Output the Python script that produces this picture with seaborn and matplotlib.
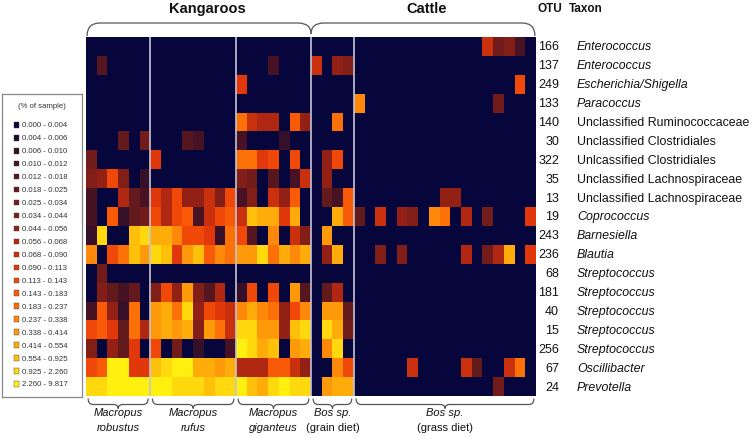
import numpy as np
import pandas as pd
import matplotlib
matplotlib.use("Agg")
import matplotlib.pyplot as plt
import seaborn as sns
from matplotlib.colors import ListedColormap
from matplotlib.path import Path
from matplotlib.patches import PathPatch, Rectangle
from matplotlib.transforms import blended_transform_factory

# ---------------- data ----------------
otu_ids = ["166", "137", "249", "133", "140", "30", "322", "35", "13", "19",
           "243", "236", "68", "181", "40", "15", "256", "67", "24"]
taxa = ["Enterococcus", "Enterococcus", "Escherichia/Shigella", "Paracoccus",
        "Unclassified Ruminococcaceae", "Unclassified Clostridiales",
        "Unlcassified Clostridiales", "Unclassified Lachnospiraceae",
        "Unclassified Lachnospiraceae", "Coprococcus", "Barnesiella", "Blautia",
        "Streptococcus", "Streptococcus", "Streptococcus", "Streptococcus",
        "Streptococcus", "Oscillibacter", "Prevotella"]
taxon_italic = [True, True, True, True, False, False, False, False, False, True,
                True, True, True, True, True, True, True, True, True]

group_line1 = ["Macropus", "Macropus", "Macropus", "Bos sp.", "Bos sp."]
group_line2 = ["robustus", "rufus", "giganteus", "(grain diet)", "(grass diet)"]
group_line2_italic = [True, True, True, False, False]

bin_labels = ["0.000 - 0.004", "0.004 - 0.006", "0.006 - 0.010", "0.010 - 0.012",
              "0.012 - 0.018", "0.018 - 0.025", "0.025 - 0.034", "0.034 - 0.044",
              "0.044 - 0.056", "0.056 - 0.068", "0.068 - 0.090", "0.090 - 0.113",
              "0.113 - 0.143", "0.143 - 0.183", "0.183 - 0.237", "0.237 - 0.338",
              "0.338 - 0.414", "0.414 - 0.554", "0.554 - 0.925", "0.925 - 2.260",
              "2.260 - 9.817"]
bin_colors = ["#06063c", "#1f0a2e", "#361028", "#461224", "#551620", "#631a1c",
              "#711c1a", "#821e18", "#922015", "#b02812", "#c8300e", "#e0380a",
              "#f04808", "#f85a08", "#fc7008", "#fd880a", "#fe9a0a", "#ffac0a",
              "#ffc00c", "#ffd80e", "#fff010"]

# abundance bin index (0-20, see bin_labels) per OTU row and sample
robustus = [
    [0, 0, 0, 0, 0, 0], [0, 4, 0, 0, 0, 0], [0, 0, 0, 0, 0, 0], [0, 0, 0, 0, 0, 0],
    [0, 0, 0, 0, 0, 0], [0, 0, 0, 5, 0, 6], [6, 0, 0, 0, 0, 0], [7, 8, 12, 7, 0, 2],
    [3, 0, 0, 9, 5, 3], [3, 0, 13, 2, 5, 6], [2, 19, 0, 0, 18, 19], [15, 0, 12, 14, 18, 16],
    [0, 6, 0, 0, 0, 0], [0, 7, 5, 3, 5, 0], [3, 13, 8, 2, 14, 0], [12, 13, 11, 5, 14, 9],
    [7, 0, 8, 5, 11, 0], [12, 13, 20, 20, 11, 11], [19, 19, 20, 20, 20, 20]]
rufus = [
    [0, 0, 0, 0, 0, 0, 0, 0], [0, 0, 0, 0, 0, 0, 0, 0], [0, 0, 0, 0, 0, 0, 0, 0],
    [0, 0, 0, 0, 0, 0, 0, 0], [0, 0, 0, 0, 0, 0, 0, 0], [0, 0, 0, 4, 3, 0, 0, 0],
    [11, 0, 0, 0, 0, 0, 0, 0], [0, 0, 0, 0, 0, 0, 0, 0], [11, 9, 12, 8, 8, 10, 7, 12],
    [12, 9, 12, 13, 3, 10, 12, 13], [17, 17, 15, 12, 12, 11, 2, 14],
    [19, 18, 11, 16, 18, 13, 15, 14], [0, 0, 0, 0, 0, 0, 0, 0],
    [7, 12, 8, 16, 7, 4, 9, 0], [16, 17, 14, 19, 8, 12, 11, 10],
    [16, 17, 16, 17, 7, 16, 14, 10], [12, 0, 6, 0, 2, 0, 0, 3],
    [18, 19, 20, 20, 17, 17, 16, 17], [20, 20, 19, 19, 19, 18, 19, 19]]
giganteus = [
    [0, 0, 0, 0, 0, 0, 0], [0, 0, 0, 3, 0, 0, 0], [11, 0, 0, 0, 0, 0, 0],
    [0, 0, 0, 0, 0, 0, 0], [14, 10, 9, 9, 0, 13, 8], [3, 0, 0, 0, 2, 0, 0],
    [14, 14, 11, 12, 0, 12, 0], [7, 6, 0, 4, 0, 3, 10], [3, 7, 0, 10, 8, 13, 0],
    [10, 18, 17, 17, 11, 17, 0], [12, 4, 0, 15, 0, 10, 7], [16, 16, 19, 14, 17, 15, 17],
    [0, 0, 0, 0, 0, 0, 0], [2, 12, 0, 12, 0, 16, 4], [15, 17, 15, 14, 8, 12, 15],
    [19, 19, 16, 16, 8, 18, 19], [20, 19, 17, 18, 0, 16, 17], [9, 9, 9, 13, 13, 10, 8],
    [20, 18, 17, 19, 20, 19, 19]]
bos_grain = [
    [0, 0, 0, 0], [10, 0, 8, 7], [0, 0, 0, 0], [0, 0, 0, 0], [0, 0, 14, 0],
    [0, 0, 0, 0], [0, 8, 12, 0], [0, 8, 0, 0], [0, 5, 3, 13], [0, 0, 17, 13],
    [0, 16, 0, 0], [0, 8, 17, 0], [0, 0, 0, 0], [0, 5, 9, 0], [0, 16, 16, 5],
    [0, 19, 17, 6], [0, 15, 19, 0], [0, 0, 15, 12], [0, 16, 17, 17]]
bos_grass = [
    [0, 0, 0, 0, 0, 0, 0, 0, 0, 0, 0, 0, 10, 6, 7, 3, 0],
    [0, 0, 0, 0, 0, 0, 0, 0, 0, 0, 0, 0, 0, 0, 0, 0, 0],
    [0, 0, 0, 0, 0, 0, 0, 0, 0, 0, 0, 0, 0, 0, 0, 12, 0],
    [15, 0, 0, 0, 0, 0, 0, 0, 0, 0, 0, 0, 0, 6, 0, 0, 0],
    [0, 0, 0, 0, 0, 0, 0, 0, 0, 0, 0, 0, 0, 0, 0, 0, 0],
    [0, 0, 0, 0, 0, 0, 0, 0, 0, 0, 0, 0, 0, 0, 0, 0, 0],
    [0, 0, 0, 0, 0, 0, 0, 0, 0, 0, 0, 0, 0, 0, 0, 0, 0],
    [0, 0, 0, 0, 0, 0, 0, 0, 0, 0, 0, 0, 0, 0, 0, 0, 0],
    [0, 0, 0, 0, 0, 0, 0, 0, 8, 8, 0, 0, 0, 0, 0, 0, 0],
    [5, 0, 10, 0, 8, 7, 0, 15, 14, 0, 9, 0, 6, 0, 0, 0, 11],
    [0, 0, 0, 0, 0, 0, 0, 0, 0, 0, 0, 0, 0, 0, 0, 0, 0],
    [0, 0, 7, 0, 7, 0, 0, 0, 0, 0, 9, 0, 6, 9, 17, 0, 11],
    [0, 0, 0, 0, 0, 0, 0, 0, 0, 0, 0, 0, 0, 0, 0, 0, 0],
    [0, 0, 0, 0, 0, 0, 0, 0, 0, 0, 0, 0, 0, 0, 0, 0, 0],
    [0, 0, 0, 0, 0, 0, 0, 0, 0, 0, 0, 0, 0, 0, 0, 0, 0],
    [0, 0, 0, 0, 0, 0, 0, 0, 0, 0, 0, 0, 0, 0, 0, 0, 0],
    [0, 0, 0, 0, 0, 0, 0, 0, 0, 0, 0, 0, 0, 0, 0, 0, 0],
    [0, 0, 0, 0, 0, 10, 0, 0, 0, 0, 10, 5, 0, 0, 10, 14, 0],
    [0, 0, 0, 0, 0, 0, 0, 0, 0, 0, 0, 0, 0, 6, 0, 0, 0]]

# ---------------- figure ----------------
sns.set_style("white")
plt.rcParams["font.family"] = ["Liberation Sans", "DejaVu Sans"]

W, H = 752, 439
fig = plt.figure(figsize=(W / 100, H / 100), dpi=100)
fig.patch.set_facecolor("white")


def fx(px):
    return px / W


def fy(py):
    return 1 - py / H


blocks = [robustus, rufus, giganteus, bos_grain, bos_grass]
mat = np.hstack([np.array(b) for b in blocks])
group_sizes = [len(b[0]) for b in blocks]
edges = np.concatenate([[0], np.cumsum(group_sizes)])
df = pd.DataFrame(mat, index=otu_ids)

hm_left, hm_top, hm_right, hm_bottom = 86, 38, 536, 397
ax = fig.add_axes([fx(hm_left), fy(hm_bottom), fx(hm_right - hm_left),
                   (hm_bottom - hm_top) / H])
cmap = ListedColormap(bin_colors)
sns.heatmap(df, ax=ax, cmap=cmap, vmin=-0.5, vmax=len(bin_colors) - 0.5,
            cbar=False, xticklabels=False, yticklabels=False, linewidths=0)
ax.set_xlabel("")
ax.set_ylabel("")
ax.tick_params(length=0)

for e in edges[1:-1]:
    ax.axvline(e, color="#c4c4d4", lw=1.2)

ncol = mat.shape[1]
hpx = (hm_bottom - hm_top)          # axes height in px
cw = (hm_right - hm_left) / ncol    # column width in px

# row labels
trans_rows = blended_transform_factory(ax.transAxes, ax.transData)
for i, (otu, tx, it) in enumerate(zip(otu_ids, taxa, taxon_italic)):
    ax.text((559 - hm_left) / (hm_right - hm_left), i + 0.5, otu,
            transform=trans_rows, ha="right", va="center", fontsize=9,
            color="#111111", clip_on=False)
    ax.text((577 - hm_left) / (hm_right - hm_left), i + 0.5, tx,
            transform=trans_rows, ha="left", va="center", fontsize=8.9,
            style="italic" if it else "normal", color="#111111", clip_on=False)

# headers
fig.text(fx(207), fy(9), "Kangaroos", ha="center", va="center",
         fontsize=10.5, fontweight="bold", color="#111111")
fig.text(fx(427), fy(9), "Cattle", ha="center", va="center",
         fontsize=10.5, fontweight="bold", color="#111111")
fig.text(fx(550), fy(9), "OTU", ha="center", va="center",
         fontsize=8.5, fontweight="bold", color="#111111")
fig.text(fx(569), fy(9), "Taxon", ha="left", va="center",
         fontsize=8.5, fontweight="bold", color="#111111")

# brackets (x in data columns, y in axes fraction)
tb = blended_transform_factory(ax.transData, ax.transAxes)


def ay(py):
    return (hm_bottom - py) / hpx


def top_bracket(x0, x1, ytip0, ytip1):
    r = 13 / cw
    verts = [(x0, ay(ytip0)), (x0, ay(24)), (x0 + r, ay(24)),
             (x1 - r, ay(24)), (x1, ay(24)), (x1, ay(ytip1))]
    codes = [Path.MOVETO, Path.CURVE3, Path.CURVE3, Path.LINETO,
             Path.CURVE3, Path.CURVE3]
    ax.add_patch(PathPatch(Path(verts, codes), transform=tb, fill=False,
                           lw=0.9, edgecolor="#555555", clip_on=False))


split = edges[3]
top_bracket(0.1, split, 37, 35)
top_bracket(split, ncol - 0.1, 35, 37)


def bottom_brace(x0, x1):
    r = 5 / cw
    xc = (x0 + x1) / 2
    y_end, y_mid, y_tip = 399.5, 405.5, 409.5
    verts = [(x0, ay(y_end)), (x0, ay(y_mid)), (x0 + r, ay(y_mid)),
             (xc - r, ay(y_mid)), (xc, ay(y_mid)), (xc, ay(y_tip)),
             (xc, ay(y_mid)), (xc + r, ay(y_mid)),
             (x1 - r, ay(y_mid)), (x1, ay(y_mid)), (x1, ay(y_end))]
    codes = [Path.MOVETO, Path.CURVE3, Path.CURVE3, Path.LINETO, Path.CURVE3,
             Path.CURVE3, Path.CURVE3, Path.CURVE3, Path.LINETO, Path.CURVE3,
             Path.CURVE3]
    ax.add_patch(PathPatch(Path(verts, codes), transform=tb, fill=False,
                           lw=0.9, edgecolor="#555555", clip_on=False))


for g in range(len(group_sizes)):
    a, b = edges[g], edges[g + 1]
    bottom_brace(a + 0.2, b - 0.2)
    xc = (a + b) / 2
    ax.text(xc, ay(413), group_line1[g], transform=tb, ha="center", va="center",
            fontsize=8, style="italic", color="#111111", clip_on=False)
    ax.text(xc, ay(428), group_line2[g], transform=tb, ha="center", va="center",
            fontsize=8, style="italic" if group_line2_italic[g] else "normal",
            color="#111111", clip_on=False)

# legend box
lax = fig.add_axes([fx(2), fy(398), fx(80), (398 - 95) / H])
lax.set_xlim(0, 80)
lax.set_ylim(303, 0)
lax.set_xticks([])
lax.set_yticks([])
for s in lax.spines.values():
    s.set_color("#888888")
    s.set_linewidth(0.9)
lax.text(40, 107 - 95, "(% of sample)", ha="center", va="center", fontsize=5.6,
         color="#333333")
for i, (lab, col) in enumerate(zip(bin_labels, bin_colors)):
    yc = 125.8 - 95 + i * 12.96
    lax.add_patch(Rectangle((11.5, yc - 2.8), 5.6, 5.6, facecolor=col,
                            edgecolor="#444444", lw=0.3))
    lax.text(20.5, yc, lab, ha="left", va="center", fontsize=5.6, color="#333333")

fig.savefig("out.png", dpi=100, facecolor="white")
